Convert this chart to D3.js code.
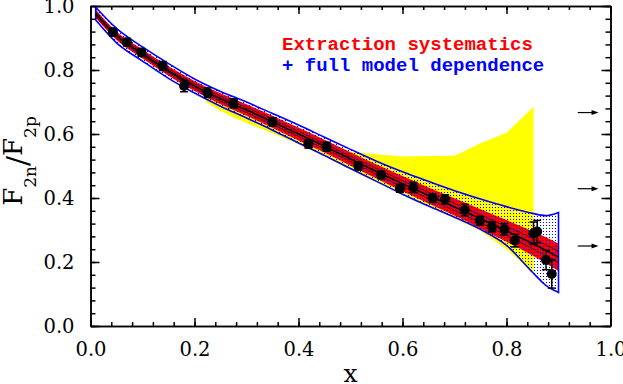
<!DOCTYPE html>
<html lang="en">
<head>
<meta charset="UTF-8">
<title>F2n/F2p</title>
<script src="https://d3js.org/d3.v7.min.js"></script>
<style>
  body { margin: 0; background: #fff; }
  svg { display: block; }
  .axis path, .axis line { stroke: #000; stroke-width: 1.5; }
  .axis text { font-family: "DejaVu Serif", serif; font-size: 19.5px; fill: #000; }
</style>
</head>
<body>
<script>
// band grid (x) and the edges of each band
var gridX   = [0.01, 0.05, 0.1,  0.15, 0.2,  0.25, 0.3,  0.35, 0.4,  0.45, 0.5,  0.55, 0.6,  0.65, 0.7,  0.75, 0.8,  0.85, 0.875, 0.9];
var center  = [0.976,0.907,0.850,0.797,0.750,0.710,0.675,0.638,0.600,0.562,0.522,0.483,0.445,0.408,0.372,0.335,0.297,0.258,0.237,0.215];
var innerHi = [0.982,0.913,0.856,0.803,0.757,0.717,0.683,0.646,0.608,0.570,0.530,0.492,0.454,0.418,0.383,0.347,0.311,0.274,0.254,0.233];
var innerLo = [0.970,0.901,0.844,0.791,0.743,0.703,0.667,0.630,0.592,0.554,0.514,0.474,0.436,0.398,0.361,0.323,0.283,0.242,0.220,0.197];
var redHi   = [0.989,0.920,0.864,0.812,0.766,0.727,0.693,0.657,0.620,0.582,0.543,0.505,0.469,0.433,0.399,0.365,0.331,0.296,0.278,0.258];
var redLo   = [0.963,0.894,0.836,0.782,0.734,0.693,0.657,0.619,0.580,0.542,0.501,0.461,0.421,0.383,0.345,0.305,0.263,0.220,0.196,0.172];
var blueHi  = [0.996,0.930,0.872,0.820,0.772,0.733,0.700,0.664,0.628,0.590,0.552,0.515,0.482,0.452,0.423,0.397,0.373,0.352,0.345,0.355];
var blueLo  = [0.956,0.885,0.828,0.774,0.728,0.687,0.650,0.612,0.572,0.533,0.492,0.452,0.412,0.375,0.340,0.302,0.252,0.168,0.128,0.105];

var yellowX  = [0.222,0.25, 0.274,0.3,  0.35, 0.4,  0.45, 0.5,  0.55, 0.6,  0.65, 0.7,  0.75, 0.8,  0.852];
var yellowHi = [0.730,0.712,0.698,0.680,0.645,0.610,0.575,0.545,0.537,0.530,0.531,0.532,0.571,0.604,0.685];
var yellowLo = [0.700,0.672,0.652,0.634,0.602,0.568,0.530,0.488,0.450,0.410,0.373,0.337,0.297,0.240,0.165];

// data points
var ptX   = [0.043,0.070,0.098,0.139,0.180,0.225,0.275,0.350,0.419,0.454,0.515,0.559,0.595,0.621,0.658,0.682,0.720,0.749,0.772,0.796,0.816,0.852,0.859,0.876,0.887];
var ptY   = [0.918,0.887,0.855,0.8125,0.750,0.729,0.696,0.638,0.569,0.560,0.500,0.472,0.430,0.433,0.399,0.396,0.3625,0.329,0.310,0.302,0.267,0.290,0.295,0.206,0.1625];
var ptErr = [0.012,0.012,0.012,0.014,0.018,0.015,0.014,0.013,0.013,0.014,0.012,0.012,0.012,0.016,0.013,0.014,0.018,0.014,0.016,0.018,0.020,0.035,0.035,0.030,0.044];

// limits marked by arrows on the right
var arrowY = [0.667, 0.429, 0.25];

var W = 623, H = 384;
var x = d3.scaleLinear().domain([0, 1]).range([90.5, 610.5]);
var y = d3.scaleLinear().domain([0, 1]).range([326, 6]);

var svg = d3.select("body").append("svg").attr("width", W).attr("height", H);

var defs = svg.append("defs");
var pat = defs.append("pattern").attr("id", "dots")
    .attr("patternUnits", "userSpaceOnUse").attr("width", 3).attr("height", 3);
pat.append("rect").attr("width", 1).attr("height", 1).attr("fill", "#0000ff");

var clip = defs.append("clipPath").attr("id", "plotclip");
clip.append("rect").attr("x", x(0)).attr("y", y(1)).attr("width", x(1) - x(0)).attr("height", y(0) - y(1));

function band(xs, lo, hi, curve) {
  return d3.area()
    .x(function(d, i) { return x(xs[i]); })
    .y0(function(d, i) { return y(lo[i]); })
    .y1(function(d, i) { return y(hi[i]); })
    .curve(curve)(xs);
}
function line(xs, ys) {
  return d3.line()
    .x(function(d, i) { return x(xs[i]); })
    .y(function(d, i) { return y(ys[i]); })
    .curve(d3.curveMonotoneX)(xs);
}

var plot = svg.append("g").attr("clip-path", "url(#plotclip)");

// yellow band
plot.append("path").attr("d", band(yellowX, yellowLo, yellowHi, d3.curveLinear))
    .attr("fill", "#ffff00");
// red band
plot.append("path").attr("d", band(gridX, redLo, redHi, d3.curveMonotoneX))
    .attr("fill", "#ff0000");
// blue dotted band
plot.append("path").attr("d", band(gridX, blueLo, blueHi, d3.curveMonotoneX))
    .attr("fill", "url(#dots)")
    .attr("stroke", "#0000ff").attr("stroke-width", 1.6);

// black curves
plot.append("path").attr("d", line(gridX, innerHi)).attr("fill", "none").attr("stroke", "#000").attr("stroke-width", 0.6);
plot.append("path").attr("d", line(gridX, innerLo)).attr("fill", "none").attr("stroke", "#000").attr("stroke-width", 0.6);
plot.append("path").attr("d", line(gridX, center)).attr("fill", "none").attr("stroke", "#000").attr("stroke-width", 1.6);

// data points with error bars
var pts = svg.append("g").selectAll("g").data(ptX).join("g");
pts.append("line")
    .attr("x1", function(d) { return x(d); }).attr("x2", function(d) { return x(d); })
    .attr("y1", function(d, i) { return y(ptY[i] + ptErr[i]); })
    .attr("y2", function(d, i) { return y(ptY[i] - ptErr[i]); })
    .attr("stroke", "#000").attr("stroke-width", 1.5);
[1, -1].forEach(function(s) {
  pts.append("line")
      .attr("x1", function(d) { return x(d) - 4; }).attr("x2", function(d) { return x(d) + 4; })
      .attr("y1", function(d, i) { return y(ptY[i] + s * ptErr[i]); })
      .attr("y2", function(d, i) { return y(ptY[i] + s * ptErr[i]); })
      .attr("stroke", "#000").attr("stroke-width", 1.5);
});
pts.append("circle")
    .attr("cx", function(d) { return x(d); })
    .attr("cy", function(d, i) { return y(ptY[i]); })
    .attr("r", 5).attr("fill", "#000");

// arrows
var arr = svg.append("g").selectAll("g").data(arrowY).join("g");
arr.append("line")
    .attr("x1", x(0.937)).attr("x2", x(0.972))
    .attr("y1", function(d) { return y(d); }).attr("y2", function(d) { return y(d); })
    .attr("stroke", "#000").attr("stroke-width", 1.2);
arr.append("path")
    .attr("d", function(d) {
      var yy = y(d), xe = x(0.977);
      return "M" + xe + "," + yy + "L" + (xe - 7) + "," + (yy - 2.5) + "L" + (xe - 7) + "," + (yy + 2.5) + "Z";
    })
    .attr("fill", "#000");

// axes: major + minor ticks on all four sides, pointing inward
var major = d3.range(0, 1.0001, 0.2);
var minor = d3.range(0, 1.0001, 0.04);
var fmt = d3.format(".1f");

svg.append("g").attr("class", "axis").attr("transform", "translate(0," + y(0) + ")")
    .call(d3.axisBottom(x).tickValues(minor).tickSize(-4).tickSizeOuter(0).tickFormat(""));
svg.append("g").attr("class", "axis").attr("transform", "translate(0," + y(0) + ")")
    .call(d3.axisBottom(x).tickValues(major).tickSize(-8).tickSizeOuter(0).tickPadding(16).tickFormat(fmt));
svg.append("g").attr("class", "axis").attr("transform", "translate(0," + y(1) + ")")
    .call(d3.axisTop(x).tickValues(minor).tickSize(-4).tickSizeOuter(0).tickFormat(""));
svg.append("g").attr("class", "axis").attr("transform", "translate(0," + y(1) + ")")
    .call(d3.axisTop(x).tickValues(major).tickSize(-8).tickSizeOuter(0).tickFormat(""));

svg.append("g").attr("class", "axis").attr("transform", "translate(" + x(0) + ",0)")
    .call(d3.axisLeft(y).tickValues(minor).tickSize(-5).tickSizeOuter(0).tickFormat(""));
svg.append("g").attr("class", "axis").attr("transform", "translate(" + x(0) + ",0)")
    .call(d3.axisLeft(y).tickValues(major).tickSize(-9).tickSizeOuter(0).tickPadding(16).tickFormat(fmt));
svg.append("g").attr("class", "axis").attr("transform", "translate(" + x(1) + ",0)")
    .call(d3.axisRight(y).tickValues(minor).tickSize(-5).tickSizeOuter(0).tickFormat(""));
svg.append("g").attr("class", "axis").attr("transform", "translate(" + x(1) + ",0)")
    .call(d3.axisRight(y).tickValues(major).tickSize(-9).tickSizeOuter(0).tickFormat(""));

// legend
var leg = svg.append("g").attr("font-family", "'Liberation Mono', monospace").attr("font-weight", "bold").attr("font-size", "19px");
leg.append("text").attr("x", 282).attr("y", 50).attr("fill", "#ff0000").text("Extraction systematics");
leg.append("text").attr("x", 282).attr("y", 71).attr("fill", "#0000ff").text("+ full model dependence");

// axis titles
svg.append("text")
    .attr("x", x(0.5)).attr("y", 382)
    .attr("text-anchor", "middle")
    .attr("font-family", "'DejaVu Serif', serif").attr("font-size", "25px")
    .text("x");

var yl = svg.append("text")
    .attr("transform", "translate(22,161) rotate(-90)")
    .attr("text-anchor", "middle")
    .attr("font-family", "'DejaVu Serif', serif").attr("font-size", "26px");
yl.append("tspan").text("F");
yl.append("tspan").attr("dy", 14).attr("font-size", "17px").text("2n");
yl.append("tspan").attr("dy", -8).attr("font-size", "30px").text("/");
yl.append("tspan").attr("dy", -6).text("F");
yl.append("tspan").attr("dy", 14).attr("font-size", "17px").text("2p");
</script>
</body>
</html>
